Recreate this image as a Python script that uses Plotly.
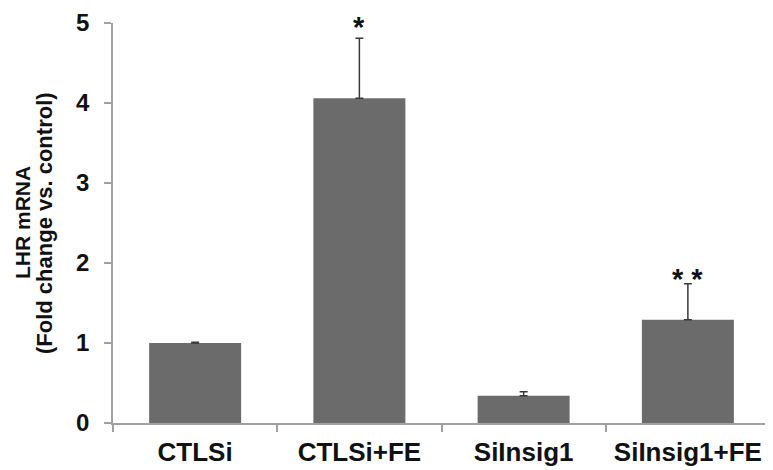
import plotly.graph_objects as go

categories = ["CTLSi", "CTLSi+FE", "SiInsig1", "SiInsig1+FE"]
values = [1.0, 4.06, 0.34, 1.29]
errors = [0.01, 0.75, 0.05, 0.45]
sig_labels = ["", "*", "", "* *"]
sig_shift = [0, 11, 0, 5]

FONT = "Liberation Sans, Arial"

fig = go.Figure()
fig.add_trace(go.Bar(
    x=categories, y=values,
    marker=dict(color="#6b6b6b", line=dict(width=0)),
    width=0.56,
    error_y=dict(type="data", array=errors, arrayminus=[0]*4, symmetric=False,
                 color="#383838", thickness=1.5, width=4),
))

for c, v, e, s, sh in zip(categories, values, errors, sig_labels, sig_shift):
    if s:
        fig.add_annotation(x=c, y=v + e, text=s, showarrow=False, yanchor="middle",
                           yshift=sh,
                           font=dict(family=FONT, size=29, color="#111111", weight="bold"))

# y-axis title as two rotated lines
fig.add_annotation(xref="paper", yref="paper", x=0, y=0.5, xanchor="center", yanchor="middle",
                   xshift=-91, text="LHR mRNA", textangle=-90, showarrow=False,
                   font=dict(family=FONT, size=21, color="#111111", weight="bold"))
fig.add_annotation(xref="paper", yref="paper", x=0, y=0.5, xanchor="center", yanchor="middle",
                   xshift=-69, text="(Fold change vs. control)", textangle=-90, showarrow=False,
                   font=dict(family=FONT, size=22, color="#111111", weight="bold"))

fig.update_layout(
    width=773, height=470,
    margin=dict(l=105, r=11, t=15, b=55),
    paper_bgcolor="white", plot_bgcolor="white",
    showlegend=False,
    font=dict(family=FONT, color="#111111"),
)
fig.update_xaxes(
    showline=True, linecolor="#a0a0a0", linewidth=1.5,
    ticks="outside", tickson="boundaries", ticklen=7, tickcolor="#a0a0a0", tickwidth=1.5,
    tickfont=dict(size=26, family=FONT, color="#111111", weight="bold"),
    ticklabelstandoff=5,
    showgrid=False, automargin=False,
)
fig.update_yaxes(
    range=[0, 5], tickvals=[0, 1, 2, 3, 4, 5],
    showline=True, linecolor="#a0a0a0", linewidth=1.5,
    ticks="outside", ticklen=7, tickcolor="#a0a0a0", tickwidth=1.5,
    tickfont=dict(size=24, family=FONT, color="#111111", weight="bold"),
    ticklabelstandoff=10,
    showgrid=False, zeroline=False, automargin=False,
)

fig.write_html("out.html")
